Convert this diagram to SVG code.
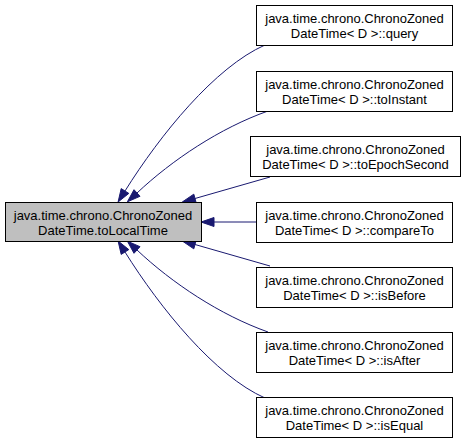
<svg xmlns="http://www.w3.org/2000/svg" width="465" height="444" viewBox="0 0 465 444">
<style>
.box{fill:#ffffff;stroke:#000000;stroke-width:1}
.main{fill:#bfbfbf;stroke:#000000;stroke-width:1}
.lbl{font-family:"Liberation Sans",Arial,sans-serif;font-size:13px;fill:#000000;text-anchor:middle}
.edge{fill:none;stroke:#191970;stroke-width:1}
.head{fill:#191970;stroke:#191970;stroke-width:1}
</style>
<rect width="465" height="444" fill="#ffffff"/>
<g id="connectors">
<path class="edge" d="M265,45 C215,67 160,135 125,191"/>
<polygon class="head" points="128.8,193.4 121.2,188.6 118.1,202"/>
<path class="edge" d="M268,111 C220,128 172,160 137,193"/>
<polygon class="head" points="140,196.3 134,189.7 127.4,201.8"/>
<path class="edge" d="M270,177 L195,198.5"/>
<polygon class="head" points="196.2,202.85 193.8,194.15 182.4,201.9"/>
<path class="edge" d="M256,222 L214,222"/>
<polygon class="head" points="214,217.5 214,226.5 201,222"/>
<path class="edge" d="M270,266 L195,244.5"/>
<polygon class="head" points="196.2,240.15 193.8,248.85 182.4,241.1"/>
<path class="edge" d="M268,332 C220,315 172,283 137,250"/>
<polygon class="head" points="140,246.7 134,253.3 127.4,241.2"/>
<path class="edge" d="M265,398 C215,376 160,308 125,252"/>
<polygon class="head" points="128.8,249.6 121.2,254.4 118.1,241"/>
</g>
<g id="node-main">
<rect class="main" x="5.5" y="202.5" width="196" height="39"/>
<text class="lbl" x="103" y="220">java.time.chrono.ChronoZoned</text>
<text class="lbl" x="103" y="235">DateTime.toLocalTime</text>
</g>
<g id="node-query">
<rect class="box" x="256.5" y="5.5" width="196" height="40"/>
<text class="lbl" x="354.5" y="23">java.time.chrono.ChronoZoned</text>
<text class="lbl" x="354.5" y="38">DateTime&lt; D &gt;::query</text>
</g>
<g id="node-toInstant">
<rect class="box" x="256.5" y="71.5" width="196" height="40"/>
<text class="lbl" x="354.5" y="89">java.time.chrono.ChronoZoned</text>
<text class="lbl" x="354.5" y="104">DateTime&lt; D &gt;::toInstant</text>
</g>
<g id="node-toEpochSecond">
<rect class="box" x="250.5" y="136.5" width="210" height="40"/>
<text class="lbl" x="355.5" y="154">java.time.chrono.ChronoZoned</text>
<text class="lbl" x="355.5" y="169">DateTime&lt; D &gt;::toEpochSecond</text>
</g>
<g id="node-compareTo">
<rect class="box" x="256.5" y="202.5" width="196" height="40"/>
<text class="lbl" x="354.5" y="220">java.time.chrono.ChronoZoned</text>
<text class="lbl" x="354.5" y="235">DateTime&lt; D &gt;::compareTo</text>
</g>
<g id="node-isBefore">
<rect class="box" x="256.5" y="267.5" width="196" height="40"/>
<text class="lbl" x="354.5" y="285">java.time.chrono.ChronoZoned</text>
<text class="lbl" x="354.5" y="300">DateTime&lt; D &gt;::isBefore</text>
</g>
<g id="node-isAfter">
<rect class="box" x="256.5" y="332.5" width="196" height="40"/>
<text class="lbl" x="354.5" y="350">java.time.chrono.ChronoZoned</text>
<text class="lbl" x="354.5" y="365">DateTime&lt; D &gt;::isAfter</text>
</g>
<g id="node-isEqual">
<rect class="box" x="256.5" y="397.5" width="196" height="40"/>
<text class="lbl" x="354.5" y="415">java.time.chrono.ChronoZoned</text>
<text class="lbl" x="354.5" y="430">DateTime&lt; D &gt;::isEqual</text>
</g>
</svg>
